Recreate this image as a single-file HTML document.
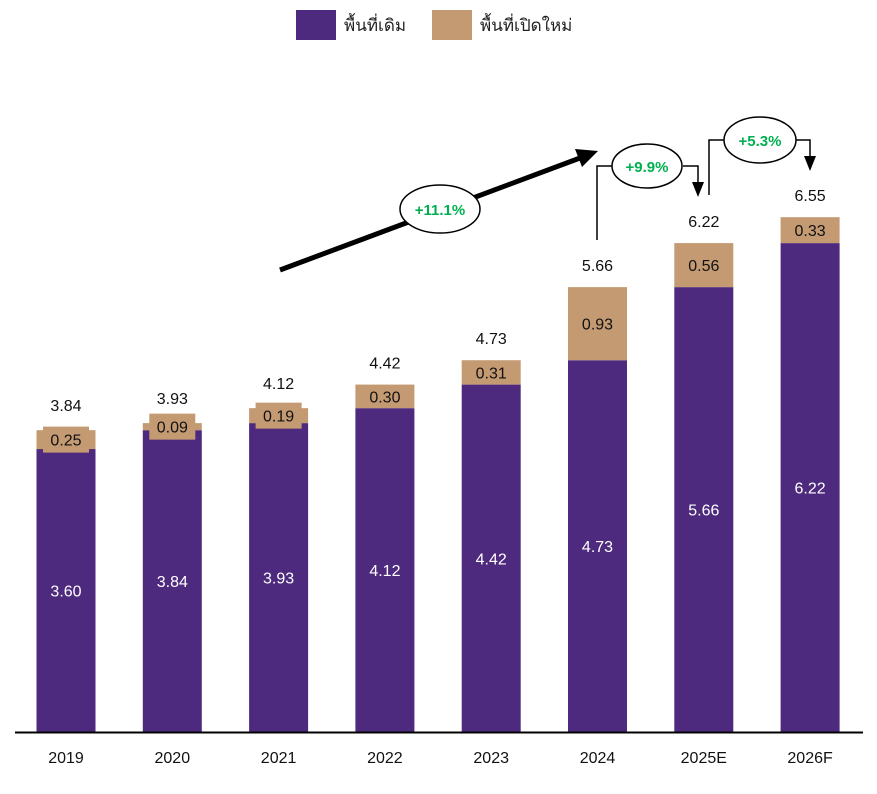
<!DOCTYPE html><html><head><meta charset="utf-8"><style>body{margin:0;background:#fff}svg{display:block}text{font-family:"Liberation Sans","Noto Sans CJK SC",sans-serif}</style></head><body>
<svg width="877" height="794" viewBox="0 0 877 794">
<rect x="296" y="10" width="40" height="30" fill="#4e2a7f"/><text x="344" y="31" font-size="17" fill="#222">พื้นที่เดิม</text>
<rect x="432" y="10" width="40" height="30" fill="#c49a72"/><text x="480" y="31" font-size="17" fill="#222">พื้นที่เปิดใหม่</text>
<g id="bars"></g>
<line x1="15" y1="732.5" x2="863" y2="732.5" stroke="#000" stroke-width="2"/>
<line x1="280" y1="270" x2="580" y2="158" stroke="#000" stroke-width="5"/>
<path d="M575,149 L598,151 L582,167Z"/>
<ellipse cx="440" cy="209" rx="40" ry="24" fill="#fff" stroke="#000" stroke-width="1.5"/>
<text x="440" y="215" font-size="15" font-weight="bold" fill="#00b050" text-anchor="middle">+11.1%</text>
<path d="M597,240V166H612M683,166H698V184" fill="none" stroke="#000" stroke-width="1.5"/><path d="M692,182h12l-6,15z"/>
<ellipse cx="647" cy="166" rx="35" ry="22" fill="#fff" stroke="#000" stroke-width="1.5"/>
<text x="647" y="172" font-size="15" font-weight="bold" fill="#00b050" text-anchor="middle">+9.9%</text>
<path d="M709,195V140H724M796,140H810V158" fill="none" stroke="#000" stroke-width="1.5"/><path d="M804,156h12l-6,15z"/>
<ellipse cx="760" cy="140" rx="36" ry="23" fill="#fff" stroke="#000" stroke-width="1.5"/>
<text x="760" y="146" font-size="15" font-weight="bold" fill="#00b050" text-anchor="middle">+5.3%</text>
</svg>
<script>
var d=[["2019",3.60,0.25,3.84],["2020",3.84,0.09,3.93],["2021",3.93,0.19,4.12],["2022",4.12,0.30,4.42],["2023",4.42,0.31,4.73],["2024",4.73,0.93,5.66],["2025E",5.66,0.56,6.22],["2026F",6.22,0.33,6.55]];
var s=78.6,b=732,h="";
d.forEach(function(r,i){var cx=66+i*106.3,x=cx-29.5,yp=b-r[1]*s,yt=b-r[3]*s;
h+='<rect x="'+x+'" y="'+yp+'" width="59" height="'+(b-yp)+'" fill="#4e2a7f"/>';
h+='<rect x="'+x+'" y="'+yt+'" width="59" height="'+(yp-yt)+'" fill="#c49a72"/>';
var my=(yt+yp)/2,sm=yp-yt<22;
if(sm)h+='<rect x="'+(cx-23)+'" y="'+(my-13)+'" width="46" height="26" fill="#c49a72"/>';
h+='<text x="'+cx+'" y="'+(my+6)+'" font-size="16" text-anchor="middle" fill="#111">'+r[2].toFixed(2)+'</text>';
h+='<text x="'+cx+'" y="'+((yp+b)/2+6)+'" font-size="16" text-anchor="middle" fill="#fff">'+r[1].toFixed(2)+'</text>';
h+='<text x="'+cx+'" y="'+(yt-(sm?19:16))+'" font-size="16" text-anchor="middle" fill="#111">'+r[3].toFixed(2)+'</text>';
h+='<text x="'+cx+'" y="763" font-size="16" text-anchor="middle" fill="#111">'+r[0]+'</text>';});
document.getElementById("bars").innerHTML=h;
</script></body></html>
